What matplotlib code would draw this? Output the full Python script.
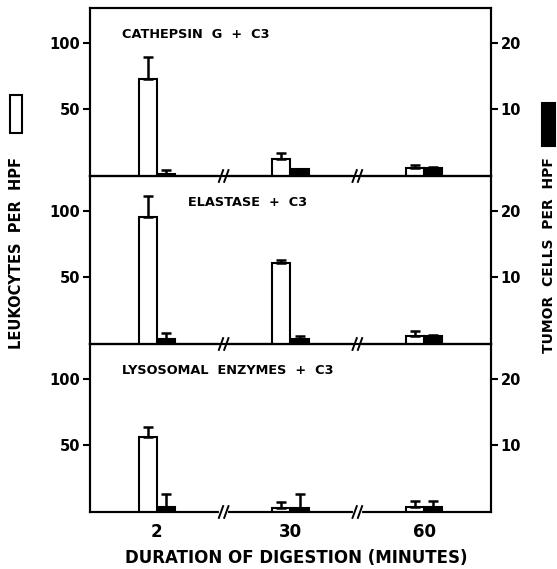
import numpy as np
import matplotlib
matplotlib.use('Agg')
import matplotlib.pyplot as plt
from matplotlib.patches import Rectangle
from matplotlib.transforms import blended_transform_factory

# digestion time (minutes)
times = ['2', '30', '60']

panel_titles = ['CATHEPSIN  G  +  C3', 'ELASTASE  +  C3', 'LYSOSOMAL  ENZYMES  +  C3']
title_x = [0.08, 0.245, 0.08]

# leukocytes per HPF (left axis), upper error
leuk_cathepsin = [73, 13, 6]
leuk_cathepsin_err = [16, 4.5, 2.5]
leuk_elastase = [95.5, 60.5, 6.2]
leuk_elastase_err = [15.5, 2.5, 3.5]
leuk_lysosomal = [56, 3, 3.7]
leuk_lysosomal_err = [7.4, 4.7, 4.7]

# tumor cells per HPF (right axis), upper error
tumor_cathepsin = [0.3, 1.0, 1.2]
tumor_cathepsin_err = [0.6, 0.1, 0.2]
tumor_elastase = [0.75, 0.75, 1.25]
tumor_elastase_err = [0.9, 0.5, 0.15]
tumor_lysosomal = [0.75, 0.6, 0.75]
tumor_lysosomal_err = [2.0, 2.1, 0.95]

leuk = [leuk_cathepsin, leuk_elastase, leuk_lysosomal]
leuk_err = [leuk_cathepsin_err, leuk_elastase_err, leuk_lysosomal_err]
tumor = [tumor_cathepsin, tumor_elastase, tumor_lysosomal]
tumor_err = [tumor_cathepsin_err, tumor_elastase_err, tumor_lysosomal_err]

plt.rcParams['font.family'] = 'DejaVu Sans'
plt.rcParams['font.weight'] = 'bold'

W, H = 557, 569
fig = plt.figure(figsize=(W / 100, H / 100), dpi=100)

left, right = 90 / W, 491 / W
ph = 168
tops = [8, 176, 344]
x = np.arange(len(times))
bw = 0.135
lw = 1.5

for i in range(3):
    ax = fig.add_axes([left, 1 - (tops[i] + ph) / H, right - left, ph / H])
    ax2 = ax.twinx()
    ax.set_xlim(-0.5, 2.5)
    ax.set_ylim(0, 126)
    ax2.set_ylim(0, 25.2)
    ax.set_zorder(ax2.get_zorder() + 1)
    ax.patch.set_visible(False)

    ax2.bar(x + bw / 2, tumor[i], width=bw, color='black', edgecolor='black', linewidth=lw)
    ax2.errorbar(x + bw / 2, tumor[i], yerr=[np.zeros(3), tumor_err[i]], fmt='none',
                 ecolor='black', elinewidth=1.8, capsize=3.3, capthick=1.8)
    ax.bar(x - bw / 2, leuk[i], width=bw, color='white', edgecolor='black', linewidth=lw)
    ax.errorbar(x - bw / 2, leuk[i], yerr=[np.zeros(3), leuk_err[i]], fmt='none',
                ecolor='black', elinewidth=1.8, capsize=3.3, capthick=1.8)

    ax.set_yticks([50, 100])
    ax2.set_yticks([10, 20])
    for a in (ax, ax2):
        for s in a.spines.values():
            s.set_linewidth(lw)
        a.tick_params(axis='y', length=5, width=1.5, labelsize=10.5, pad=2)
    ax.tick_params(axis='x', length=0, labelsize=12, pad=8)
    ax.set_xticks(x)
    if i < 2:
        ax.set_xticklabels([])
    else:
        ax.set_xticklabels(times)

    ax.text(title_x[i], 0.84, panel_titles[i], transform=ax.transAxes,
            fontsize=9.3, fontweight='bold', va='center', ha='left')

    # axis break marks on the bottom line
    tr = blended_transform_factory(ax.transData, ax.transAxes)
    for xb in [0.5, 1.5]:
        ax.plot([xb - 0.02, xb + 0.02], [0, 0], color='white', lw=3,
                transform=tr, clip_on=False, zorder=5)
        for dx in [-0.02, 0.02]:
            ax.plot([xb + dx - 0.016, xb + dx + 0.016], [-0.035, 0.035], color='black',
                    lw=1.4, transform=tr, clip_on=False, zorder=6)

fig.text(0.5 * (left + right) + 0.01, 1 - 558 / H, 'DURATION OF DIGESTION (MINUTES)',
         ha='center', va='center', fontsize=12, fontweight='bold')
fig.text(17 / W, 1 - 253 / H, 'LEUKOCYTES  PER  HPF', rotation=90,
         ha='center', va='center', fontsize=10.5, fontweight='bold')
fig.text(549 / W, 1 - 255 / H, 'TUMOR  CELLS  PER  HPF', rotation=90,
         ha='center', va='center', fontsize=10, fontweight='bold')

# legend glyphs beside the axis labels
fig.patches.append(Rectangle((10 / W, 1 - 133 / H), 12 / W, 38 / H, transform=fig.transFigure,
                             facecolor='white', edgecolor='black', linewidth=1.5))
fig.patches.append(Rectangle((542 / W, 1 - 146 / H), 13 / W, 43 / H, transform=fig.transFigure,
                             facecolor='black', edgecolor='black', linewidth=1.5))

fig.savefig('out.png', dpi=100)
